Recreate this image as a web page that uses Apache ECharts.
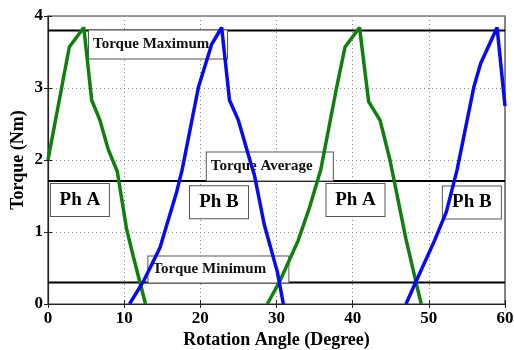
<!DOCTYPE html>
<html>
<head>
<meta charset="utf-8">
<script src="https://cdn.jsdelivr.net/npm/echarts@6/dist/echarts.min.js"></script>
<style>html,body{margin:0;padding:0;background:#fff}#c{width:514px;height:350px}</style>
</head>
<body>
<div id="c"></div>
<script>
// Phase A (green) curves
var phaseA1 = [[0.0,2.0],[1.8,3.01],[2.8,3.57],[4.7,3.84],[5.74,2.83],[6.83,2.55],[7.93,2.14],[9.1,1.84],[10.3,1.05],[11.2,0.66],[12.8,0.0]];
var phaseA2 = [[28.8,0.0],[30.4,0.31],[32.8,0.87],[34.3,1.33],[35.8,1.86],[37.9,3.01],[39.0,3.57],[40.9,3.84],[42.1,2.81],[43.6,2.55],[44.9,2.0],[45.3,1.79],[47.0,0.9],[48.3,0.31],[49.0,0.0]];
// Phase B (blue) curves
var phaseB1 = [[10.7,0.0],[12.5,0.31],[14.7,0.78],[15.6,1.1],[16.9,1.56],[17.6,1.86],[19.75,3.01],[21.5,3.61],[22.8,3.84],[23.83,2.83],[25.0,2.55],[26.5,2.0],[27.1,1.79],[28.4,1.1],[30.1,0.45],[30.9,0.0]];
var phaseB2 = [[47.0,0.0],[48.3,0.31],[50.7,0.87],[52.3,1.28],[53.7,1.86],[55.9,3.01],[56.8,3.34],[58.96,3.84],[60.0,2.75]];
// Reference levels
var torqueMax = 3.80, torqueAvg = 1.71, torqueMin = 0.30;
var xTicks = [0,10,20,30,40,50,60];
var yTicks = [0,1,2,3,4];
// Annotation labels: [text, x (left edge), y (middle)]
var levelLabels = [["Torque Maximum",5.39,3.605],["Torque Average",20.85,1.91],["Torque Minimum",13.18,0.48]];
// Phase labels: [text, x (center), y (middle)]
var phaseLabels = [["Ph A",4.19,1.445],["Ph B",22.45,1.414],["Ph A",40.37,1.445],["Ph B",55.65,1.41]];

var serif = '"Liberation Serif","DejaVu Serif",serif';
var chart = echarts.init(document.getElementById('c'));
var green = '#0f800f', blue = '#0a0af0';

function curve(d, col){
  return {type:'line', data:d, showSymbol:false, symbol:'none', z:5, clip:true,
    lineStyle:{color:col, width:3.5}, animation:false};
}
function hline(v){
  return {type:'line', data:[[0,v],[60,v]], showSymbol:false, symbol:'none', z:4,
    lineStyle:{color:'#000', width:2}, animation:false};
}
var levelW = [138,126,140], levelH = [28,28,26];
var annot = {type:'line', data:[], z:1, animation:false, markPoint:{symbol:'rect', symbolSize:0, animation:false,
  data: levelLabels.map(function(l,i){
    return {coord:[l[1],l[2]], label:{show:true, formatter:l[0], position:'inside', fontFamily:serif, fontWeight:'bold', fontSize:15,
      color:'#111', backgroundColor:'#fff', borderColor:'#555', borderWidth:1, width:levelW[i]-4, height:levelH[i], lineHeight:levelH[i], padding:[0,0,0,4], align:'left', verticalAlign:'middle'}};
  }).concat(phaseLabels.map(function(l){
    return {coord:[l[1],l[2]], label:{show:true, formatter:l[0], position:'inside', fontFamily:serif, fontWeight:'bold', fontSize:19,
      color:'#000', backgroundColor:'#fff', borderColor:'#555', borderWidth:1, width:58, height:32, lineHeight:32, padding:0, align:'center', verticalAlign:'middle'}};
  }))
}};

var option = {
  backgroundColor:'#fff',
  animation:false,
  grid:{left:48, right:9, top:16, bottom:46, outerBoundsMode:'none', containLabel:false, show:true, borderColor:'#333', borderWidth:1.2, backgroundColor:'transparent'},
  xAxis:[{type:'value', min:0, max:60, interval:10,
    name:'Rotation Angle (Degree)', nameLocation:'middle', nameGap:27, nameMoveOverlap:false,
    nameTextStyle:{fontFamily:serif, fontWeight:'bold', fontSize:18, color:'#000'},
    axisLine:{show:true, lineStyle:{color:'#222', width:1.2}},
    axisTick:{show:true, inside:true, length:4, lineStyle:{color:'#222'}},
    axisLabel:{fontFamily:serif, fontWeight:'bold', fontSize:17, color:'#000', margin:6,
      formatter:function(v){return xTicks.indexOf(v)>=0? String(v):'';}},
    splitLine:{show:true, lineStyle:{color:'#888', type:[1,3], width:1}}},
   {type:'value', position:'top', min:0, max:60, interval:10, axisLabel:{show:false},
    axisLine:{show:false}, axisTick:{show:true, inside:true, length:4, lineStyle:{color:'#222'}}, splitLine:{show:false}}],
  yAxis:[{type:'value', min:0, max:4, interval:1,
    name:'Torque (Nm)', nameLocation:'middle', nameGap:21, nameMoveOverlap:false,
    nameTextStyle:{fontFamily:serif, fontWeight:'bold', fontSize:18, color:'#000'},
    axisLine:{show:true, lineStyle:{color:'#222', width:1.2}},
    axisTick:{show:true, inside:true, length:4, lineStyle:{color:'#222'}},
    axisLabel:{fontFamily:serif, fontWeight:'bold', fontSize:17, color:'#000', margin:5,
      formatter:function(v){return yTicks.indexOf(v)>=0? String(v):'';}},
    splitLine:{show:true, lineStyle:{color:'#888', type:[1,3], width:1}}},
   {type:'value', position:'right', min:0, max:4, interval:1, axisLabel:{show:false},
    axisLine:{show:false}, axisTick:{show:true, inside:true, length:4, lineStyle:{color:'#222'}}, splitLine:{show:false}}],
  series:[annot, hline(torqueMax), hline(torqueAvg), hline(torqueMin),
    curve(phaseA1, green), curve(phaseA2, green), curve(phaseB1, blue), curve(phaseB2, blue)]
};
chart.setOption(option);
</script>
</body>
</html>
